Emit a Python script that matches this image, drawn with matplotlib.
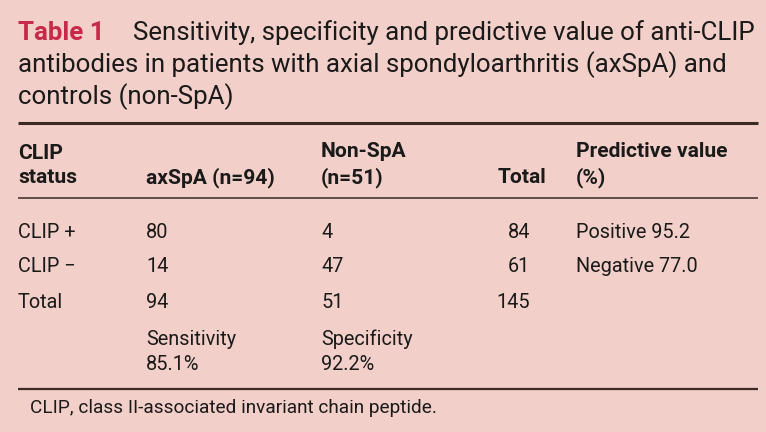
import matplotlib
matplotlib.use("Agg")
import matplotlib.pyplot as plt
from matplotlib.textpath import TextPath
from matplotlib.font_manager import FontProperties

BG = "#F2CFC8"
INK = "#1a1a1a"
RED = "#C8284A"
RULE = "#3b2a26"
FONT = ["Roboto", "DejaVu Sans"]

title_label = "Table 1"
title_lines = ["Sensitivity, specificity and predictive value of anti-CLIP",
               "antibodies in patients with axial spondyloarthritis (axSpA) and",
               "controls (non-SpA)"]
header_cols = ["CLIP\nstatus", "axSpA (n=94)", "Non-SpA\n(n=51)", "Total", "Predictive value\n(%)"]
row_labels = ["CLIP +", "CLIP \u2212", "Total"]
axspa = [80, 14, 94]
nonspa = [4, 47, 51]
totals = [84, 61, 145]
predictive = ["Positive 95.2", "Negative 77.0", ""]
sens_spec = ["Sensitivity\n85.1%", "Specificity\n92.2%"]
footnote = "CLIP, class II-associated invariant chain peptide."

DPI = 100


def fit_size(text, target_px, weight="normal"):
    fp = FontProperties(family=FONT, weight=weight, size=10)
    w = TextPath((0, 0), text, prop=fp).get_extents().width
    w_px = w * DPI / 72.0
    return 10 * target_px / w_px


TS = fit_size(title_lines[0], 620)
BS = fit_size(predictive[0], 112)
HS = fit_size("Predictive value", 150, "bold")
FS = fit_size(footnote, 403)

fig = plt.figure(figsize=(7.66, 4.32), dpi=DPI)
fig.patch.set_facecolor(BG)
ax = fig.add_axes([0, 0, 1, 1])
ax.set_xlim(0, 766)
ax.set_ylim(432, 0)
ax.axis("off")

# title
ax.text(18, 33, title_label, color=RED, fontsize=TS, fontweight="bold", family=FONT, va="center", ha="left")
for i, line in enumerate(title_lines):
    x = 133 if i == 0 else 18
    ax.text(x, 33 + 32 * i, line, color=INK, fontsize=TS, family=FONT, va="center", ha="left")

# rules
ax.hlines([123], 18, 758, color=RULE, lw=2.2)
ax.hlines([198], 18, 758, color=RULE, lw=1.1)
ax.hlines([389], 18, 758, color=RULE, lw=1.6)

col_x = [18, 146, 321, 546, 576]
ha = ["left", "left", "left", "right", "left"]
for h, x, a in zip(header_cols, col_x, ha):
    ax.text(x, 183, h, color=INK, fontsize=HS, fontweight="bold", family=FONT,
            va="baseline", ha=a, linespacing=1.35, multialignment="left")

row_y = [232, 267, 302]
for i, y in enumerate(row_y):
    ax.text(18, y, row_labels[i], color=INK, fontsize=BS, family=FONT, va="center")
    ax.text(146, y, str(axspa[i]), color=INK, fontsize=BS, family=FONT, va="center")
    ax.text(321, y, str(nonspa[i]), color=INK, fontsize=BS, family=FONT, va="center")
    ax.text(530, y, str(totals[i]), color=INK, fontsize=BS, family=FONT, va="center", ha="right")
    if predictive[i]:
        ax.text(576, y, predictive[i], color=INK, fontsize=BS, family=FONT, va="center")

for x, s in zip([146, 321], sens_spec):
    ax.text(x, 352, s, color=INK, fontsize=BS, family=FONT, va="center", linespacing=1.38)

ax.text(30, 408, footnote, color=INK, fontsize=FS, family=FONT, va="center")

fig.savefig("out.png", dpi=DPI, facecolor=BG)
